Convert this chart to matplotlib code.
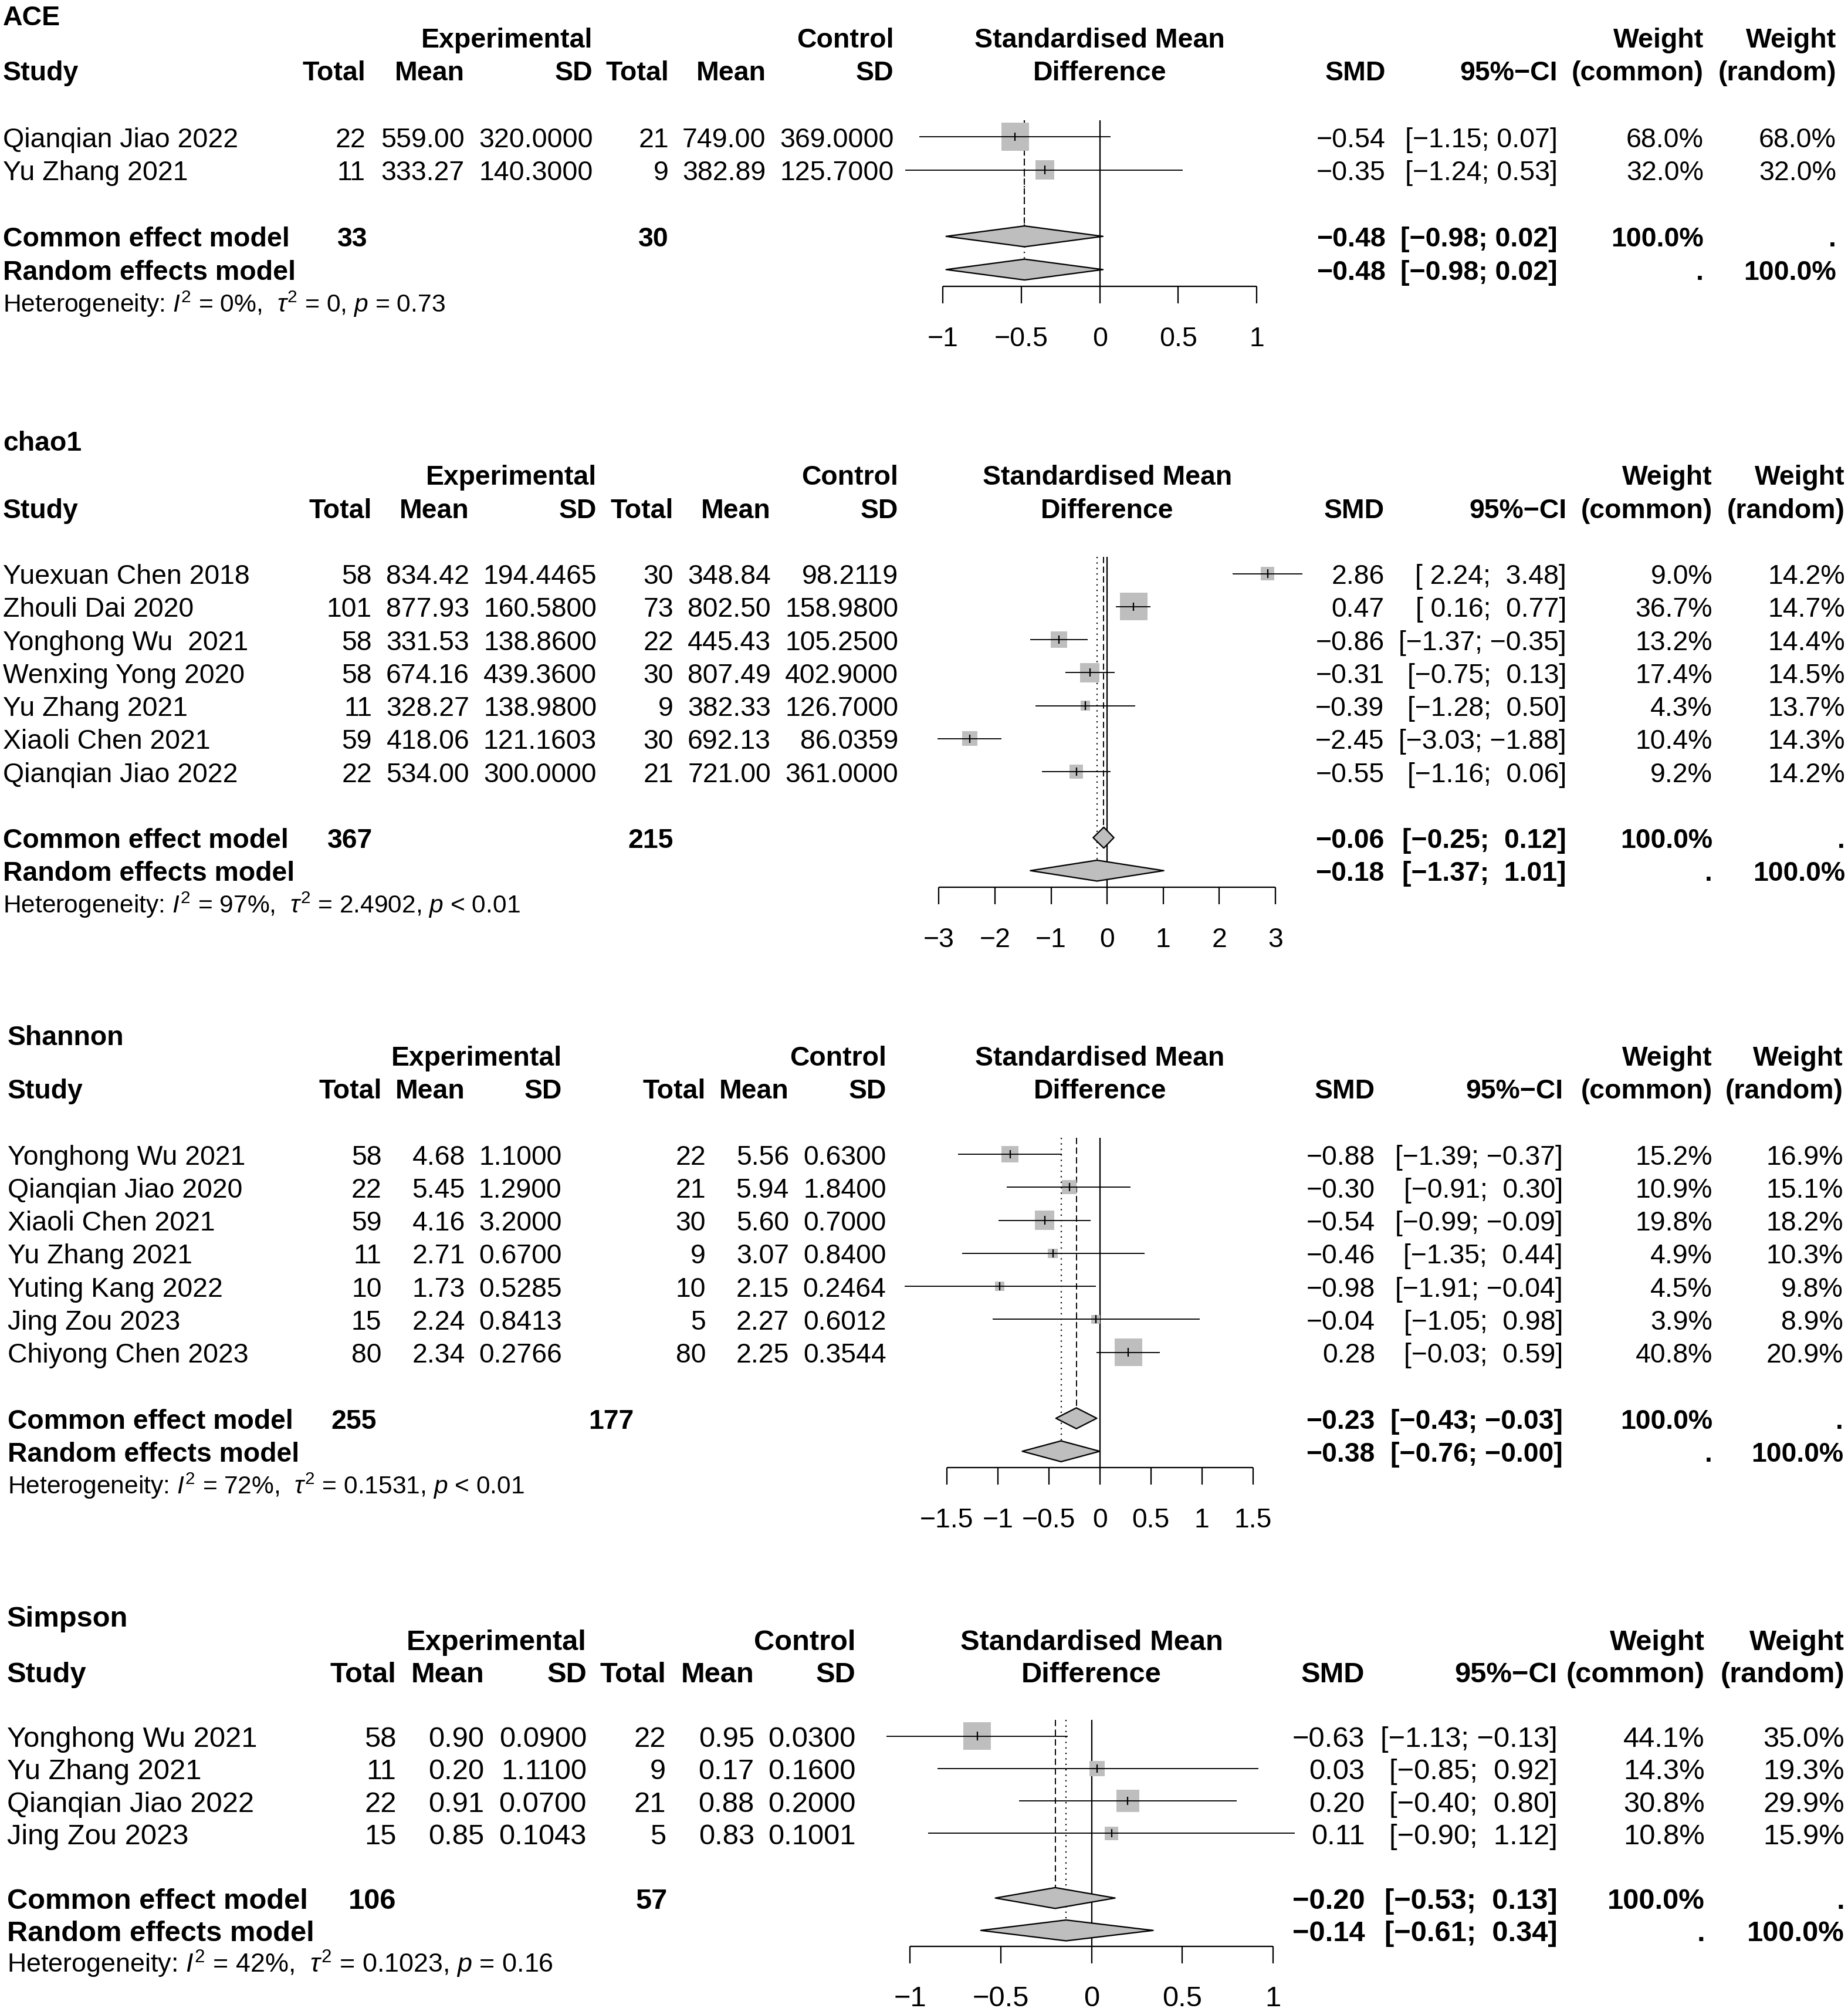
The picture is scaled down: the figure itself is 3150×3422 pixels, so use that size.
import matplotlib
matplotlib.use("Agg")
import matplotlib.pyplot as plt
from matplotlib.patches import Polygon
import numpy as np

plt.rcParams['font.family'] = ['Liberation Sans', 'DejaVu Sans']
plt.rcParams['mathtext.fontset'] = 'custom'
plt.rcParams['mathtext.rm'] = 'Liberation Sans'
plt.rcParams['mathtext.it'] = 'Liberation Sans:italic'
plt.rcParams['mathtext.bf'] = 'Liberation Sans:bold'

# ---------------------------------------------------------------- DATA
# ACE
ace_studies = ["Qianqian Jiao 2022", "Yu Zhang 2021"]
ace_n_e = [22, 11]
ace_mean_e = [559.00, 333.27]
ace_sd_e = [320.0000, 140.3000]
ace_n_c = [21, 9]
ace_mean_c = [749.00, 382.89]
ace_sd_c = [369.0000, 125.7000]
ace_smd = [-0.54, -0.35]
ace_lower = [-1.15, -1.24]
ace_upper = [0.07, 0.53]
ace_w_common = [68.0, 32.0]
ace_w_random = [68.0, 32.0]
ace_common = [-0.48, -0.98, 0.02]
ace_random = [-0.48, -0.98, 0.02]
ace_totals = [33, 30]
ace_het = r"Heterogeneity: $I^2$ = 0%,  $\tau^2$ = 0, $p$ = 0.73"
ace_ticks = [-1, -0.5, 0, 0.5, 1]

# chao1
chao_studies = ["Yuexuan Chen 2018", "Zhouli Dai 2020", "Yonghong Wu  2021", "Wenxing Yong 2020",
                "Yu Zhang 2021", "Xiaoli Chen 2021", "Qianqian Jiao 2022"]
chao_n_e = [58, 101, 58, 58, 11, 59, 22]
chao_mean_e = [834.42, 877.93, 331.53, 674.16, 328.27, 418.06, 534.00]
chao_sd_e = [194.4465, 160.5800, 138.8600, 439.3600, 138.9800, 121.1603, 300.0000]
chao_n_c = [30, 73, 22, 30, 9, 30, 21]
chao_mean_c = [348.84, 802.50, 445.43, 807.49, 382.33, 692.13, 721.00]
chao_sd_c = [98.2119, 158.9800, 105.2500, 402.9000, 126.7000, 86.0359, 361.0000]
chao_smd = [2.86, 0.47, -0.86, -0.31, -0.39, -2.45, -0.55]
chao_lower = [2.24, 0.16, -1.37, -0.75, -1.28, -3.03, -1.16]
chao_upper = [3.48, 0.77, -0.35, 0.13, 0.50, -1.88, 0.06]
chao_w_common = [9.0, 36.7, 13.2, 17.4, 4.3, 10.4, 9.2]
chao_w_random = [14.2, 14.7, 14.4, 14.5, 13.7, 14.3, 14.2]
chao_common = [-0.06, -0.25, 0.12]
chao_random = [-0.18, -1.37, 1.01]
chao_totals = [367, 215]
chao_het = r"Heterogeneity: $I^2$ = 97%,  $\tau^2$ = 2.4902, $p$ < 0.01"
chao_ticks = [-3, -2, -1, 0, 1, 2, 3]

# Shannon
shan_studies = ["Yonghong Wu 2021", "Qianqian Jiao 2020", "Xiaoli Chen 2021", "Yu Zhang 2021",
                "Yuting Kang 2022", "Jing Zou 2023", "Chiyong Chen 2023"]
shan_n_e = [58, 22, 59, 11, 10, 15, 80]
shan_mean_e = [4.68, 5.45, 4.16, 2.71, 1.73, 2.24, 2.34]
shan_sd_e = [1.1000, 1.2900, 3.2000, 0.6700, 0.5285, 0.8413, 0.2766]
shan_n_c = [22, 21, 30, 9, 10, 5, 80]
shan_mean_c = [5.56, 5.94, 5.60, 3.07, 2.15, 2.27, 2.25]
shan_sd_c = [0.6300, 1.8400, 0.7000, 0.8400, 0.2464, 0.6012, 0.3544]
shan_smd = [-0.88, -0.30, -0.54, -0.46, -0.98, -0.04, 0.28]
shan_lower = [-1.39, -0.91, -0.99, -1.35, -1.91, -1.05, -0.03]
shan_upper = [-0.37, 0.30, -0.09, 0.44, -0.04, 0.98, 0.59]
shan_w_common = [15.2, 10.9, 19.8, 4.9, 4.5, 3.9, 40.8]
shan_w_random = [16.9, 15.1, 18.2, 10.3, 9.8, 8.9, 20.9]
shan_common = [-0.23, -0.43, -0.03]
shan_random = [-0.38, -0.76, -0.0]
shan_totals = [255, 177]
shan_het = r"Heterogeneity: $I^2$ = 72%,  $\tau^2$ = 0.1531, $p$ < 0.01"
shan_ticks = [-1.5, -1, -0.5, 0, 0.5, 1, 1.5]

# Simpson
simp_studies = ["Yonghong Wu 2021", "Yu Zhang 2021", "Qianqian Jiao 2022", "Jing Zou 2023"]
simp_n_e = [58, 11, 22, 15]
simp_mean_e = [0.90, 0.20, 0.91, 0.85]
simp_sd_e = [0.0900, 1.1100, 0.0700, 0.1043]
simp_n_c = [22, 9, 21, 5]
simp_mean_c = [0.95, 0.17, 0.88, 0.83]
simp_sd_c = [0.0300, 0.1600, 0.2000, 0.1001]
simp_smd = [-0.63, 0.03, 0.20, 0.11]
simp_lower = [-1.13, -0.85, -0.40, -0.90]
simp_upper = [-0.13, 0.92, 0.80, 1.12]
simp_w_common = [44.1, 14.3, 30.8, 10.8]
simp_w_random = [35.0, 19.3, 29.9, 15.9]
simp_common = [-0.20, -0.53, 0.13]
simp_random = [-0.14, -0.61, 0.34]
simp_totals = [106, 57]
simp_het = r"Heterogeneity: $I^2$ = 42%,  $\tau^2$ = 0.1023, $p$ = 0.16"
simp_ticks = [-1, -0.5, 0, 0.5, 1]

# ---------------------------------------------------------------- LAYOUT
W, H = 3150, 3423
DPI = 100
GRAY = '#BEBEBE'

panels = [
    dict(title="ACE", studies=ace_studies, n_e=ace_n_e, mean_e=ace_mean_e, sd_e=ace_sd_e,
         n_c=ace_n_c, mean_c=ace_mean_c, sd_c=ace_sd_c, smd=ace_smd, lower=ace_lower,
         upper=ace_upper, wc=ace_w_common, wr=ace_w_random, common=ace_common,
         random=ace_random, totals=ace_totals, het=ace_het, ticks=ace_ticks,
         fs=33.5, title_xy=(5, 26), name_x=5, row0=234, step=56.6,
         x0=1874.7, scale=267.4, cols=[623, 791.5, 1010.5, 1140, 1305.5, 1523.5],
         tot_x=[626, 1140], smd_x=2362, ci_x=2654.6, wc_x=2904, wr_x=3130),
    dict(title="chao1", studies=chao_studies, n_e=chao_n_e, mean_e=chao_mean_e, sd_e=chao_sd_e,
         n_c=chao_n_c, mean_c=chao_mean_c, sd_c=chao_sd_c, smd=chao_smd, lower=chao_lower,
         upper=chao_upper, wc=chao_w_common, wr=chao_w_random, common=chao_common,
         random=chao_random, totals=chao_totals, het=chao_het, ticks=chao_ticks,
         fs=33.4, title_xy=(5, 751), name_x=5, row0=978.5, step=56.25,
         x0=1887.2, scale=95.6, cols=[634, 800, 1017, 1148, 1314, 1531],
         tot_x=[635, 1148], smd_x=2359.5, ci_x=2670, wc_x=2919, wr_x=3145),
    dict(title="Shannon", studies=shan_studies, n_e=shan_n_e, mean_e=shan_mean_e, sd_e=shan_sd_e,
         n_c=shan_n_c, mean_c=shan_mean_c, sd_c=shan_sd_c, smd=shan_smd, lower=shan_lower,
         upper=shan_upper, wc=shan_w_common, wr=shan_w_random, common=shan_common,
         random=shan_random, totals=shan_totals, het=shan_het, ticks=shan_ticks,
         fs=33.4, title_xy=(12.6, 1764), name_x=12.6, row0=1968, step=56.25,
         x0=1874.7, scale=174.0, cols=[650.4, 792.7, 957.6, 1203, 1345, 1510.6],
         tot_x=[642, 1080.6], smd_x=2344, ci_x=2664, wc_x=2919, wr_x=3142),
    dict(title="Simpson", studies=simp_studies, n_e=simp_n_e, mean_e=simp_mean_e, sd_e=simp_sd_e,
         n_c=simp_n_c, mean_c=simp_mean_c, sd_c=simp_sd_c, smd=simp_smd, lower=simp_lower,
         upper=simp_upper, wc=simp_w_common, wr=simp_w_random, common=simp_common,
         random=simp_random, totals=simp_totals, het=simp_het, ticks=simp_ticks,
         fs=35.2, title_xy=(12, 2754), name_x=12, row0=2959.6, step=55.2,
         x0=1860.5, scale=309.3, cols=[675.5, 825, 1000, 1135.2, 1285.8, 1458.2],
         tot_x=[675.5, 1137.3], smd_x=2326.5, ci_x=2654.6, wc_x=2906, wr_x=3144),
]

fig = plt.figure(figsize=(W / DPI, H / DPI), dpi=DPI)
fig.patch.set_facecolor('white')


def m(s):
    return s.replace('-', '\u2212')


def tick_label(t):
    if float(t).is_integer():
        return m(str(int(t)))
    return m(str(t))


def draw_panel(p):
    fs = p['fs']
    step = p['step']
    row0 = p['row0']
    n = len(p['studies'])

    def ry(r):
        return row0 + r * step

    def txt(x, y_px, s, ha='right', bold=False, size=None):
        size = size or fs
        base = y_px + 0.358 * size * DPI / 72.0
        fig.text(x / W, 1 - base / H, s, ha=ha, va='baseline', fontsize=size,
                 fontweight='bold' if bold else 'normal')

    cols = p['cols']
    # title
    txt(p['title_xy'][0], p['title_xy'][1], p['title'], ha='left', bold=True)
    # header
    y1, y2 = ry(-3), ry(-2)
    txt(cols[2], y1, "Experimental", bold=True)
    txt(cols[5], y1, "Control", bold=True)
    txt(p['x0'], y1, "Standardised Mean", ha='center', bold=True)
    txt(p['wc_x'], y1, "Weight", bold=True)
    txt(p['wr_x'], y1, "Weight", bold=True)
    txt(p['name_x'], y2, "Study", ha='left', bold=True)
    for c, lab in zip(cols, ["Total", "Mean", "SD", "Total", "Mean", "SD"]):
        txt(c, y2, lab, bold=True)
    txt(p['x0'], y2, "Difference", ha='center', bold=True)
    txt(p['smd_x'], y2, "SMD", bold=True)
    txt(p['ci_x'], y2, "95%\u2212CI", bold=True)
    txt(p['wc_x'], y2, "(common)", bold=True)
    txt(p['wr_x'], y2, "(random)", bold=True)

    # CI strings
    los = [f"{v:.2f}" for v in list(p['lower']) + [p['common'][1], p['random'][1]]]
    his = [f"{v:.2f}" for v in list(p['upper']) + [p['common'][2], p['random'][2]]]
    wl = max(len(s) for s in los)
    wh = max(len(s) for s in his)
    cis = [m("[" + a.rjust(wl) + "; " + b.rjust(wh) + "]") for a, b in zip(los, his)]

    for i in range(n):
        y = ry(i)
        txt(p['name_x'], y, p['studies'][i], ha='left')
        vals = [str(p['n_e'][i]), f"{p['mean_e'][i]:.2f}", f"{p['sd_e'][i]:.4f}",
                str(p['n_c'][i]), f"{p['mean_c'][i]:.2f}", f"{p['sd_c'][i]:.4f}"]
        for c, v in zip(cols, vals):
            txt(c, y, v)
        txt(p['smd_x'], y, m(f"{p['smd'][i]:.2f}"))
        txt(p['ci_x'], y, cis[i])
        txt(p['wc_x'], y, f"{p['wc'][i]:.1f}%")
        txt(p['wr_x'], y, f"{p['wr'][i]:.1f}%")

    yc, yr, yh = ry(n + 1), ry(n + 2), ry(n + 3)
    txt(p['name_x'], yc, "Common effect model", ha='left', bold=True)
    txt(p['tot_x'][0], yc, str(p['totals'][0]), bold=True)
    txt(p['tot_x'][1], yc, str(p['totals'][1]), bold=True)
    txt(p['smd_x'], yc, m(f"{p['common'][0]:.2f}"), bold=True)
    txt(p['ci_x'], yc, cis[n], bold=True)
    txt(p['wc_x'], yc, "100.0%", bold=True)
    txt(p['wr_x'], yc, ".", bold=True)
    txt(p['name_x'], yr, "Random effects model", ha='left', bold=True)
    txt(p['smd_x'], yr, m(f"{p['random'][0]:.2f}"), bold=True)
    txt(p['ci_x'], yr, cis[n + 1], bold=True)
    txt(p['wc_x'], yr, ".", bold=True)
    txt(p['wr_x'], yr, "100.0%", bold=True)
    txt(p['name_x'], yh, p['het'], ha='left', size=fs * 0.917)

    # ---------------- forest axes
    ticks = p['ticks']
    xmin, xmax = min(ticks), max(ticks)
    left = p['x0'] + xmin * p['scale']
    right = p['x0'] + xmax * p['scale']
    r_top, r_bot = -0.5, n + 2.5
    top, bot = ry(r_top), ry(r_bot)
    ax = fig.add_axes([left / W, 1 - bot / H, (right - left) / W, (bot - top) / H])
    ax.set_xlim(xmin, xmax)
    ax.set_ylim(r_bot, r_top)
    ax.patch.set_visible(False)
    for s in ['top', 'left', 'right']:
        ax.spines[s].set_visible(False)
    ax.spines['bottom'].set_linewidth(1.65)
    ax.spines['bottom'].set_capstyle('butt')
    ax.set_yticks([])
    ax.set_xticks(ticks)
    ax.tick_params(axis='x', direction='out', length=28.7 * 72 / DPI, width=1.65,
                   labelbottom=False)
    lab_px = bot + 1.5 * step + 0.358 * fs * DPI / 72.0
    lab_row = (lab_px - row0) / step
    for t in ticks:
        ax.text(t, lab_row, tick_label(t), ha='center', va='baseline', fontsize=fs)

    hd = 17.75 / step  # half diamond height in rows
    # reference line
    ax.vlines(0, r_top, r_bot, color='black', lw=1.65, zorder=1)
    # common (dashed) and random (dotted) lines
    ax.plot([p['common'][0]] * 2, [r_top, n + 1 - hd], color='black', lw=1.4,
            linestyle=(0, (5.5, 3.0)), zorder=1.5, solid_capstyle='butt', dash_capstyle='butt')
    ax.plot([p['random'][0]] * 2, [r_top, n + 2 - hd], color='black', lw=1.6,
            linestyle=(0, (1.0, 3.2)), zorder=1.5, dash_capstyle='butt')

    rows = np.arange(n)
    wmax = max(p['wc'])
    side_px = 0.84 * step * np.sqrt(np.array(p['wc']) / wmax)
    ax.scatter(p['smd'], rows, s=(side_px * 72 / DPI) ** 2, marker='s', c=GRAY,
               linewidths=0, zorder=2, clip_on=False)
    ax.hlines(rows, p['lower'], p['upper'], color='black', lw=1.35, zorder=3, clip_on=False)
    ax.vlines(p['smd'], rows - 7.2 / step, rows + 7.2 / step, color='black', lw=1.6,
              zorder=4, clip_on=False)

    for r, (est, lo, hi) in [(n + 1, p['common']), (n + 2, p['random'])]:
        poly = Polygon([(lo, r), (est, r - hd), (hi, r), (est, r + hd)], closed=True,
                       facecolor=GRAY, edgecolor='black', lw=1.65, zorder=5,
                       joinstyle='round', clip_on=False)
        ax.add_patch(poly)


for p in panels:
    draw_panel(p)

fig.savefig("out.png", dpi=DPI, facecolor='white')
